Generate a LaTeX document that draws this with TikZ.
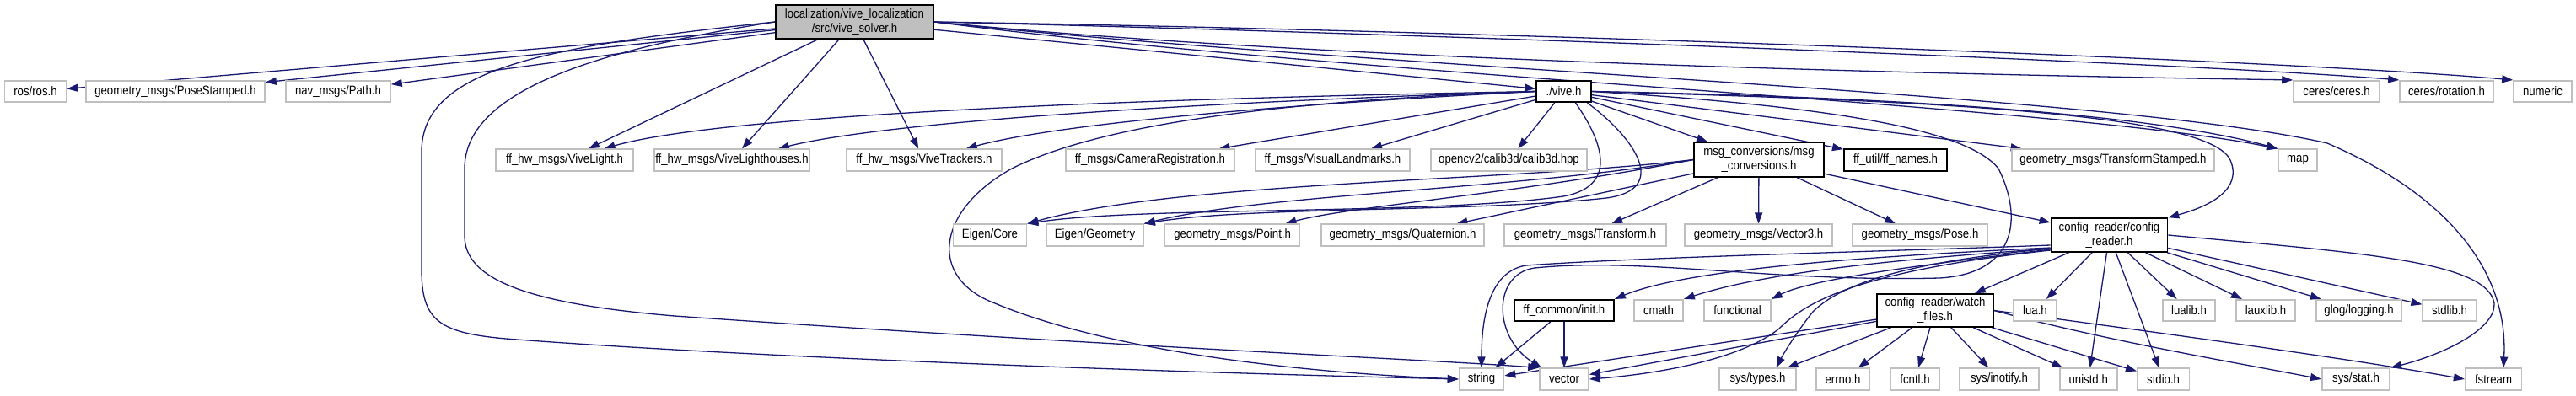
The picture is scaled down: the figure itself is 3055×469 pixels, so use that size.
\documentclass[tikz,border=0pt]{standalone}
\usepackage{fontspec}
\setmainfont{Liberation Sans}[FakeStretch=0.88]
\usetikzlibrary{arrows.meta,backgrounds}
\definecolor{edgec}{HTML}{191970}
\definecolor{boxgray}{HTML}{BFBFBF}
\tikzset{
 base/.style={rectangle, inner sep=0pt, minimum height=25.5pt, font=\fontsize{15}{17}\selectfont, align=center, fill=white, line width=1.6pt},
 g/.style={base, draw=boxgray},
 b/.style={base, draw=black},
 two/.style={minimum height=40pt},
 e/.style={draw=edgec, line width=1.3pt, -{Triangle[length=13pt,width=9pt]}},
}
\begin{document}
\begin{tikzpicture}[x=1pt,y=-1pt]
\useasboundingbox (0,0) rectangle (3055,469);
% root
\node[base, two, draw=black, fill=boxgray, line width=2.2pt, minimum width=187] (solver) at (1013.5,26) {localization/vive\_localization\\/src/vive\_solver.h};
% rank 1
\node[g, minimum width=73] (ros) at (42,108.5) {ros/ros.h};
\node[g, minimum width=212] (pst) at (208,108.5) {geometry\_msgs/PoseStamped.h};
\node[g, minimum width=124] (path) at (401,108.5) {nav\_msgs/Path.h};
\node[b, minimum width=65] (vive) at (1854.5,108.5) {./vive.h};
\node[g, minimum width=102] (ceres) at (2771,108.5) {ceres/ceres.h};
\node[g, minimum width=111] (rot) at (2901.5,108.5) {ceres/rotation.h};
\node[g, minimum width=69] (numeric) at (3015.5,108.5) {numeric};
% rank 2
\node[g, minimum width=163] (vlight) at (669.5,190) {ff\_hw\_msgs/ViveLight.h};
\node[g, minimum width=184] (vlh) at (868,190) {ff\_hw\_msgs/ViveLighthouses.h};
\node[g, minimum width=184.5] (vtr) at (1096,190) {ff\_hw\_msgs/ViveTrackers.h};
\node[g, minimum width=200] (camreg) at (1364,190) {ff\_msgs/CameraRegistration.h};
\node[g, minimum width=183] (vislm) at (1580.5,190) {ff\_msgs/VisualLandmarks.h};
\node[g, minimum width=185] (calib) at (1789.5,190) {opencv2/calib3d/calib3d.hpp};
\node[b, two, minimum width=154, minimum height=41pt] (msgconv) at (2086,189.5) {msg\_conversions/msg\\\_conversions.h};
\node[b, minimum width=122.5] (ffnames) at (2248,190) {ff\_util/ff\_names.h};
\node[g, minimum width=240.5] (tfst) at (2506,190) {geometry\_msgs/TransformStamped.h};
\node[g, minimum width=46] (map) at (2725,190) {map};
% rank 3
\node[g, minimum width=87] (ecore) at (1174,279) {Eigen/Core};
\node[g, minimum width=115] (egeom) at (1298.5,279) {Eigen/Geometry};
\node[g, minimum width=160] (point) at (1461.6,279) {geometry\_msgs/Point.h};
\node[g, minimum width=193] (quat) at (1663.5,279) {geometry\_msgs/Quaternion.h};
\node[g, minimum width=192.5] (tf) at (1880,279) {geometry\_msgs/Transform.h};
\node[g, minimum width=175] (vec3) at (2085.5,279) {geometry\_msgs/Vector3.h};
\node[g, minimum width=160] (pose) at (2277,279) {geometry\_msgs/Pose.h};
\node[b, two, minimum width=138] (config) at (2501.5,279) {config\_reader/config\\\_reader.h};
% rank 4
\node[b, minimum width=118] (init) at (1855,368.5) {ff\_common/init.h};
\node[g, minimum width=58] (cmath) at (1967,368.5) {cmath};
\node[g, minimum width=79] (functional) at (2060.5,368.5) {functional};
\node[b, two, minimum width=138, minimum height=39pt] (watch) at (2295,368.5) {config\_reader/watch\\\_files.h};
\node[g, minimum width=51] (lua) at (2413.5,368.5) {lua.h};
\node[g, minimum width=62] (lualib) at (2596,368.5) {lualib.h};
\node[g, minimum width=69.5] (lauxlib) at (2687,368.5) {lauxlib.h};
\node[g, minimum width=101] (glog) at (2797.5,368.5) {glog/logging.h};
\node[g, minimum width=63.5] (stdlib) at (2905,368.5) {stdlib.h};
% rank 5
\node[g, minimum width=53] (string) at (1757,450) {string};
\node[g, minimum width=58] (vector) at (1855,450) {vector};
\node[g, minimum width=91] (systypes) at (2084.5,450) {sys/types.h};
\node[g, minimum width=63] (errno) at (2185.5,450) {errno.h};
\node[g, minimum width=58] (fcntl) at (2271,450) {fcntl.h};
\node[g, minimum width=94] (inotify) at (2371,450) {sys/inotify.h};
\node[g, minimum width=68] (unistd) at (2476.7,450) {unistd.h};
\node[g, minimum width=61.6] (stdio) at (2565.6,450) {stdio.h};
\node[g, minimum width=80.5] (sysstat) at (2794,450) {sys/stat.h};
\node[g, minimum width=66.7] (fstream) at (2957,450) {fstream};

\begin{scope}[on background layer]
% solver edges
\draw[e] (solver) -- (ros);
\draw[e] (solver) -- (pst);
\draw[e] (solver) -- (path);
\draw[e] (solver) -- (vlight);
\draw[e] (solver) -- (vlh);
\draw[e] (solver) -- (vtr);
\draw[e] (solver) -- (vive);
\draw[e] (solver.east) .. controls (1700,35) and (2700,70) .. (numeric.north west);
\draw[e] (solver.east) .. controls (1700,40) and (2600,75) .. (rot.north west);
\draw[e] (solver.east) .. controls (1600,75) and (2400,90) .. (ceres.north west);
\draw[e] (solver.east) .. controls (1600,90) and (2450,125) .. (map.north west);
\draw[e] (solver.east) .. controls (1600,80) and (2500,110) .. (2760,170) .. controls (2900,230) and (2975,320) .. ([xshift=12pt]fstream.north);
\draw[e] (solver.west) .. controls (650,55) and (500,80) .. (500,180) -- (500,320) .. controls (500,380) and (520,395) .. (600,402) .. controls (900,425) and (1400,442) .. (string.west);
\draw[e] (solver.west) .. controls (700,60) and (551,110) .. (551,200) -- (551,280) .. controls (551,330) and (620,360) .. (800,375) .. controls (1300,410) and (1700,427) .. (vector.north west);
% vive edges
\draw[e] (vive.west) .. controls (1300,118) and (850,138) .. (vlight);
\draw[e] (vive.west) .. controls (1400,122) and (1050,145) .. (vlh);
\draw[e] (vive.west) .. controls (1500,125) and (1250,148) .. (vtr);
\draw[e] (vive) -- (camreg);
\draw[e] (vive) -- (vislm);
\draw[e] (vive) -- (calib);
\draw[e] (vive) -- (msgconv);
\draw[e] (vive) -- (ffnames);
\draw[e] (vive) -- (tfst);
\draw[e] (vive.east) .. controls (2250,115) and (2550,135) .. (map.north west);
\draw[e] (vive.east) .. controls (2300,120) and (2620,135) .. (2645,190) .. controls (2660,225) and (2620,245) .. (config.north east);
\draw[e] (vive.east) .. controls (2150,125) and (2330,150) .. (2370,200) .. controls (2400,260) and (2390,325) .. (2300,330) .. controls (2100,335) and (1950,305) .. (1820,318) .. controls (1770,325) and (1770,400) .. ([xshift=3pt]vector.north west);
\draw[e] (vive.west) .. controls (1500,120) and (1300,150) .. (1200,200) .. controls (1110,250) and (1100,330) .. (1180,360) .. controls (1300,410) and (1500,440) .. (string.west);
\draw[e] ([xshift=14pt]vive.south) .. controls (1895,160) and (1925,220) .. (1854,233) .. controls (1700,255) and (1350,245) .. (ecore.north east);
\draw[e] ([xshift=28pt]vive.south) .. controls (1940,165) and (1980,225) .. (1905,235) .. controls (1750,252) and (1480,245) .. (egeom.north east);
% msg_conversions edges
\draw[e] (msgconv.west) .. controls (1800,215) and (1400,215) .. (ecore.north east);
\draw[e] (msgconv.west) .. controls (1800,225) and (1500,230) .. (egeom.north east);
\draw[e] (msgconv.west) .. controls (1800,230) and (1600,245) .. ([xshift=-18pt]point.north east);
\draw[e] (msgconv) -- (quat);
\draw[e] (msgconv) -- (tf);
\draw[e] (msgconv) -- (vec3);
\draw[e] (msgconv) -- (pose);
\draw[e] (msgconv) -- (config);
% config_reader edges
\draw[e] (config) -- (watch);
\draw[e] (config) -- (lua);
\draw[e] (config) -- (unistd);
\draw[e] (config) -- (stdio);
\draw[e] (config) -- (lualib);
\draw[e] (config) -- (lauxlib);
\draw[e] (config) -- (glog);
\draw[e] (config) -- (stdlib);
\draw[e] (config.east) .. controls (2800,300) and (2950,310) .. (2958,360) .. controls (2960,390) and (2900,420) .. (sysstat.north east);
\draw[e] ([yshift=-15pt]config.west) .. controls (2200,305) and (2000,320) .. (init.north east);
\draw[e] ([yshift=-16pt]config.west) .. controls (2250,308) and (2100,322) .. (cmath.north east);
\draw[e] ([yshift=-17pt]config.west) .. controls (2300,312) and (2150,330) .. (functional.north east);
\draw[e] ([yshift=-16pt]config.west) .. controls (2250,312) and (2180,340) .. (2150,370) .. controls (2130,395) and (2115,420) .. ([xshift=22pt]systypes.north);
\draw[e] ([yshift=-18pt]config.west) .. controls (2200,322) and (2140,360) .. (2110,390) .. controls (2060,430) and (1950,445) .. (vector.east);
\draw[e] ([yshift=-12pt]config.west) .. controls (2250,298) and (1950,305) .. (1810,315) .. controls (1765,322) and (1757,380) .. (string.north);
% watch_files edges
\draw[e] (watch) -- (string);
\draw[e] (watch) -- (vector);
\draw[e] (watch) -- (systypes);
\draw[e] (watch) -- (errno);
\draw[e] (watch) -- (fcntl);
\draw[e] (watch) -- (inotify);
\draw[e] (watch) -- (unistd);
\draw[e] (watch) -- (stdio);
\draw[e] (watch.east) .. controls (2500,405) and (2650,430) .. (sysstat.west);
\draw[e] (watch.east) .. controls (2600,400) and (2800,428) .. (fstream.west);
% init edges
\draw[e] (init) -- (string);
\draw[e] (init) -- (vector);
\end{scope}
\end{tikzpicture}
\end{document}
